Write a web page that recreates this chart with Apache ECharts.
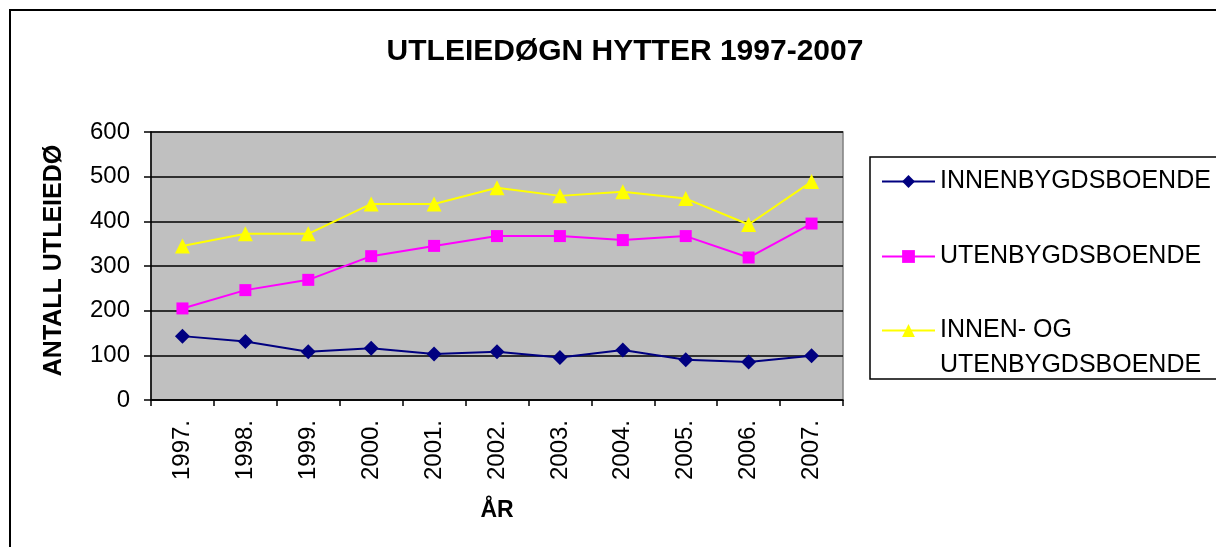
<!DOCTYPE html>
<html>
<head>
<meta charset="utf-8">
<script src="https://cdn.jsdelivr.net/npm/echarts@6/dist/echarts.min.js"></script>
<style>
  html, body { margin: 0; padding: 0; background: #fff; }
  #chart { width: 1216px; height: 547px; }
</style>
</head>
<body>
<div id="chart"></div>
<script>
var years = ['1997.', '1998.', '1999.', '2000.', '2001.', '2002.', '2003.', '2004.', '2005.', '2006.', '2007.'];
var innen = [143, 131, 108, 116, 103, 108, 95, 112, 90, 85, 99];
var uten = [205, 246, 269, 322, 345, 367, 367, 358, 367, 319, 395];
var begge = [345, 372, 372, 439, 439, 475, 457, 466, 451, 393, 489];
var seriesNames = ['INNENBYGDSBOENDE', 'UTENBYGDSBOENDE', 'INNEN- OG UTENBYGDSBOENDE'];

var font = '"Liberation Sans", Arial, sans-serif';

var dom = document.getElementById('chart');
var myChart = echarts.init(dom, null, { renderer: 'canvas' });

var legendText = { color: '#000', fontSize: 25, fontFamily: font, lineHeight: 35 };

function legendAt(name, top, formatter) {
    var l = {
        data: [name], left: 881, top: top, padding: 0,
        itemWidth: 53, itemHeight: 16, itemGap: 0,
        textStyle: legendText
    };
    if (formatter) l.formatter = formatter;
    return l;
}

var option = {
    animation: false,
    backgroundColor: '#fff',
    title: {
        text: 'UTLEIEDØGN HYTTER 1997-2007',
        left: 620,
        top: 32,
        textAlign: 'center',
        textStyle: { fontSize: 30, fontWeight: 'bold', color: '#000', fontFamily: font }
    },
    graphic: [
        // outer chart frame
        { type: 'rect', shape: { x: 10, y: 10, width: 1300, height: 700 },
          style: { fill: 'none', stroke: '#000', lineWidth: 2 } },
        // legend frame
        { type: 'rect', shape: { x: 870, y: 157, width: 400, height: 222 },
          style: { fill: 'none', stroke: '#000', lineWidth: 1.5 } }
    ],
    legend: [
        legendAt(seriesNames[0], 164),
        legendAt(seriesNames[1], 239),
        // blank first line keeps the icon level with the first text line
        legendAt(seriesNames[2], 278, function () { return ' \nINNEN- OG\nUTENBYGDSBOENDE'; })
    ],
    grid: {
        left: 151, right: 373, top: 132, bottom: 147,
        show: true, backgroundColor: '#c0c0c0', borderColor: '#808080', borderWidth: 1.5
    },
    xAxis: {
        type: 'category',
        data: years,
        boundaryGap: true,
        name: 'ÅR',
        nameLocation: 'middle',
        nameGap: 99,
        nameTextStyle: { fontSize: 23, fontWeight: 'bold', color: '#000', fontFamily: font },
        axisLine: { lineStyle: { color: '#000', width: 1.5 } },
        axisTick: { show: true, length: 6, lineStyle: { color: '#000', width: 1.5 } },
        axisLabel: { rotate: 90, margin: 20, fontSize: 24, color: '#000', fontFamily: font }
    },
    yAxis: {
        type: 'value',
        min: 0, max: 600, interval: 100,
        name: 'ANTALL UTLEIEDØ',
        nameLocation: 'middle',
        nameRotate: 90,
        nameGap: 84,
        nameTextStyle: { fontSize: 25, fontWeight: 'bold', color: '#000', fontFamily: font, padding: [0, 0, 0, 11] },
        axisLine: { show: true, lineStyle: { color: '#000', width: 1.5 } },
        axisTick: { show: true, length: 7, lineStyle: { color: '#000', width: 1.5 } },
        axisLabel: { margin: 21, fontSize: 24, color: '#000', fontFamily: font },
        splitLine: { lineStyle: { color: '#000', width: 1.5 } }
    },
    series: [
        { name: seriesNames[0], type: 'line', data: innen, symbol: 'diamond', symbolSize: 15,
          itemStyle: { color: '#000080' }, lineStyle: { color: '#000080', width: 2 } },
        { name: seriesNames[1], type: 'line', data: uten, symbol: 'rect', symbolSize: 12,
          itemStyle: { color: '#ff00ff' }, lineStyle: { color: '#ff00ff', width: 2 } },
        { name: seriesNames[2], type: 'line', data: begge, symbol: 'triangle', symbolSize: 15,
          itemStyle: { color: '#ffff00' }, lineStyle: { color: '#ffff00', width: 2 } }
    ]
};

myChart.setOption(option);
</script>
</body>
</html>
